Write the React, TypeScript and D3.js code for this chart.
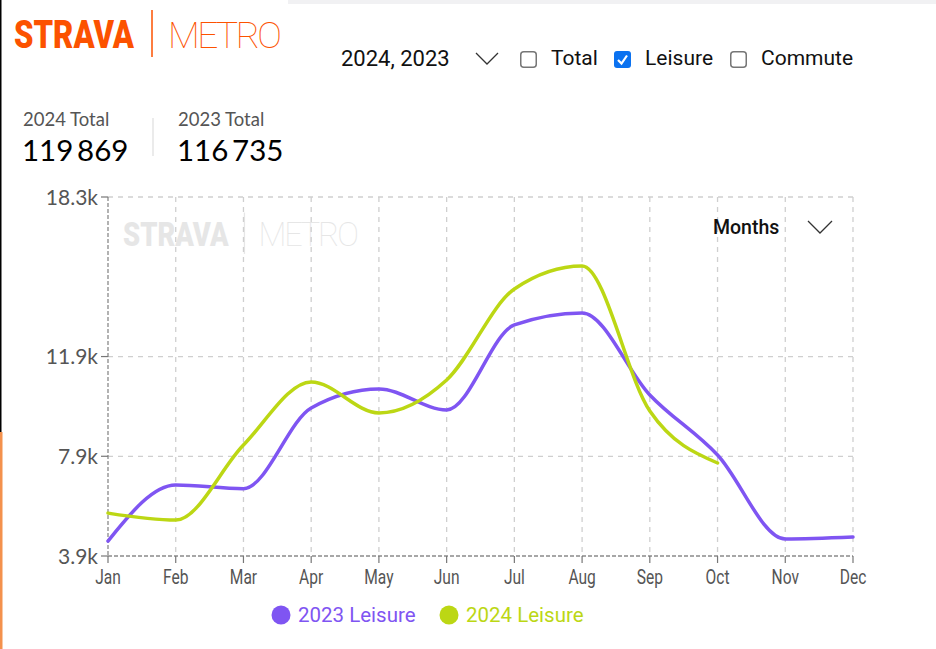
import React from "react";
import * as d3 from "d3";

const months = ["Jan", "Feb", "Mar", "Apr", "May", "Jun", "Jul", "Aug", "Sep", "Oct", "Nov", "Dec"];
const leisure2023 = [4.5, 6.75, 6.6, 9.84, 10.6, 9.76, 13.17, 13.65, 10.36, 7.95, 4.58, 4.66];
const leisure2024 = [5.62, 5.34, 8.35, 10.88, 9.64, 10.96, 14.61, 15.53, 9.72, 7.63];
const yTicks = [3.9, 7.9, 11.9, 18.3];
const totalLabels = ["2024 Total", "2023 Total"];
const totalValues = ["119\u2009869", "116\u2009735"];
const seriesNames = ["2023 Leisure", "2024 Leisure"];

const PURPLE = "#7f55f2";
const GREEN = "#bcd714";
const ORANGE = "#fc5200";

function Logo({ x, y, color, sepColor, scale = 1 }: { x: number; y: number; color: string; sepColor: string; scale?: number }) {
  return (
    <g transform={`translate(${x},${y}) scale(${scale})`}>
      <text x={0} y={0} fontFamily="Roboto, sans-serif" fontWeight={900} fontSize={38} fill={color} textLength={120} lengthAdjust="spacingAndGlyphs">STRAVA</text>
      <line x1={138} x2={138} y1={-38} y2={9} stroke={sepColor} strokeWidth={1.5} />
      <text x={154} y={0} fontFamily="Roboto, sans-serif" fontWeight={100} fontSize={37} fill={color} textLength={114} lengthAdjust="spacing">METRO</text>
    </g>
  );
}

function CheckBox({ x, y, checked }: { x: number; y: number; checked: boolean }) {
  if (checked) {
    return (
      <g>
        <rect x={x} y={y} width={17} height={17} rx={3} fill="#0b72f0" />
        <polyline points={`${x + 4},${y + 9} ${x + 7.5},${y + 12.5} ${x + 13},${y + 4.5}`} fill="none" stroke="#fff" strokeWidth={2.2} />
      </g>
    );
  }
  return <rect x={x + 0.75} y={y + 0.75} width={15.5} height={15.5} rx={3} fill="#fff" stroke="#767676" strokeWidth={1.5} />;
}

export default function App() {
  const W = 936, H = 649;
  const x = d3.scalePoint<string>().domain(months).range([108, 853]);
  const y = d3.scaleLinear().domain([3.9, 18.3]).range([556, 197]);
  const line = d3.line<number>()
    .x((_, i) => x(months[i]) as number)
    .y((d) => y(d))
    .curve(d3.curveMonotoneX);
  const [y0, y1] = y.range();
  const [x0, x1] = x.range();

  return (
    <svg width={W} height={H} style={{ position: "absolute", left: 0, top: 0, background: "#fff" }}>
      <rect x={0} y={0} width={W} height={H} fill="#fff" />
      <rect x={288} y={0} width={648} height={4} fill="#f1f1f3" />
      <rect x={0} y={0} width={1.5} height={432} fill="#000" />
      <rect x={0} y={432} width={2.5} height={217} fill="#f4914d" />

      <Logo x={14} y={48} color={ORANGE} sepColor={ORANGE} />

      {/* controls */}
      <text x={341} y={66} fontFamily="Roboto, sans-serif" fontSize={22} fill="#111">2024, 2023</text>
      <polyline points="476,53 487,64 498,53" fill="none" stroke="#333" strokeWidth={1.3} />
      <CheckBox x={520} y={51} checked={false} />
      <text x={551} y={65} fontFamily="Roboto, sans-serif" fontSize={21} fill="#111">Total</text>
      <CheckBox x={614} y={51} checked={true} />
      <text x={645} y={65} fontFamily="Roboto, sans-serif" fontSize={21} fill="#111">Leisure</text>
      <CheckBox x={730} y={51} checked={false} />
      <text x={761} y={65} fontFamily="Roboto, sans-serif" fontSize={21} fill="#111">Commute</text>

      {/* totals */}
      {totalLabels.map((t, i) => (
        <g key={t}>
          <text x={23 + i * 155} y={126} fontFamily="Lato, sans-serif" fontSize={18.5} fill="#555">{t}</text>
          <text x={22 + i * 155} y={161} fontFamily="Lato, sans-serif" fontSize={29.5} fill="#000">{totalValues[i]}</text>
        </g>
      ))}
      <line x1={153} x2={153} y1={118} y2={156} stroke="#e4e4e4" strokeWidth={1.5} />

      {/* watermark */}
      <Logo x={123} y={246} color="#e6e6e6" sepColor="#e6e6e6" scale={0.88} />

      {/* grid */}
      {months.slice(1).map((m) => (
        <line key={m} x1={x(m)} x2={x(m)} y1={y1} y2={y0} stroke="#cfcfcf" strokeWidth={1.3} strokeDasharray="5,5" />
      ))}
      {yTicks.slice(1).map((t) => (
        <line key={t} x1={x0} x2={x1} y1={y(t)} y2={y(t)} stroke="#cfcfcf" strokeWidth={1.3} strokeDasharray="5,5" />
      ))}
      {/* axes */}
      <line x1={x0} x2={x0} y1={y1} y2={y0} stroke="#8a8a8a" strokeWidth={1.3} strokeDasharray="4,2" />
      <line x1={x0} x2={x1} y1={y0} y2={y0} stroke="#8a8a8a" strokeWidth={1.3} strokeDasharray="4,2" />
      {yTicks.map((t) => (
        <g key={t}>
          <line x1={x0 - 7} x2={x0} y1={y(t)} y2={y(t)} stroke="#777" strokeWidth={1.2} />
          <text x={98} y={y(t)} dy="0.36em" textAnchor="end" fontFamily="Lato, sans-serif" fontSize={21} fill="#555">{`${t}k`}</text>
        </g>
      ))}
      {months.map((m) => (
        <g key={m}>
          <line x1={x(m)} x2={x(m)} y1={y0} y2={y0 + 7} stroke="#777" strokeWidth={1.2} />
          <g transform={`translate(${x(m)},${584}) scale(0.76,1)`}>
            <text x={0} y={0} textAnchor="middle" fontFamily="Roboto, sans-serif" fontSize={20.5} fill="#555">{m}</text>
          </g>
        </g>
      ))}

      {/* months dropdown */}
      <text x={713} y={234} fontFamily="Roboto, sans-serif" fontWeight={500} fontSize={19.5} fill="#111">Months</text>
      <polyline points="808,221 820,233 832,221" fill="none" stroke="#333" strokeWidth={1.3} />

      {/* lines */}
      <path d={line(leisure2023) || ""} fill="none" stroke={PURPLE} strokeWidth={3.5} strokeLinecap="round" />
      <path d={line(leisure2024) || ""} fill="none" stroke={GREEN} strokeWidth={3.5} strokeLinecap="round" />

      {/* legend */}
      {seriesNames.map((n, i) => (
        <g key={n} transform={`translate(${281 + i * 168},615)`}>
          <circle cx={0} cy={0} r={9.5} fill={i === 0 ? PURPLE : GREEN} />
          <text x={17} y={0} dy="0.36em" fontFamily="Roboto, sans-serif" fontSize={20.5} fill={i === 0 ? PURPLE : GREEN}>{n}</text>
        </g>
      ))}
    </svg>
  );
}
